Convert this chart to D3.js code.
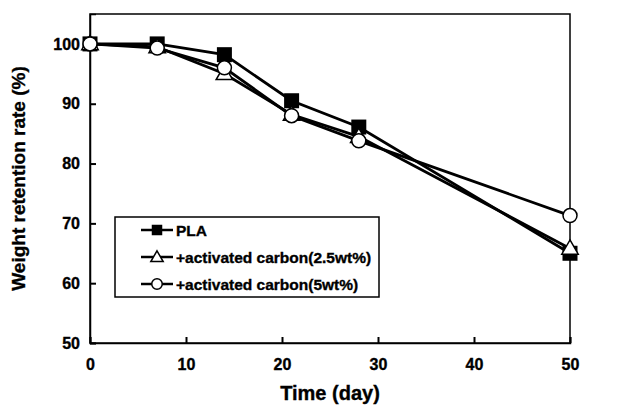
<!DOCTYPE html>
<html>
<head>
<meta charset="utf-8">
<script src="https://cdn.jsdelivr.net/npm/d3@7"></script>
<style>
  body { margin: 0; background: #fff; }
  svg text { font-family: "Liberation Sans", Arial, sans-serif; font-weight: bold; fill: #000; stroke: #000; stroke-width: 0.35px; }
</style>
</head>
<body>
<svg id="canvas" width="620" height="407"></svg>
<script>
// data
const days = [0, 7, 14, 21, 28, 50];
const pla = [100, 100, 98.2, 90.5, 86.1, 65.0];
const ac25 = [100, 99.5, 95.0, 88.2, 84.5, 65.8];
const ac5 = [100, 99.3, 96.0, 88.0, 83.8, 71.3];
const seriesNames = ['PLA', '+activated carbon(2.5wt%)', '+activated carbon(5wt%)'];
const xTicks = [0, 10, 20, 30, 40, 50];
const yTicks = [50, 60, 70, 80, 90, 100];

// margins & dimensions
const margin = { top: 14, right: 50, bottom: 64, left: 90 };
const width = 620 - margin.left - margin.right;
const height = 407 - margin.top - margin.bottom;

const root = d3.select('#canvas');
const svg = root.append('g')
  .attr('transform', `translate(${margin.left},${margin.top})`);

const xScale = d3.scaleLinear().domain([0, 50]).range([0, width]);
const yScale = d3.scaleLinear().domain([50, 105]).range([height, 0]);

// frame
svg.append('rect')
  .attr('width', width).attr('height', height)
  .attr('fill', 'none').attr('stroke', '#000').attr('stroke-width', 1.5);

// axes, ticks pointing inward
const xAxis = svg.append('g')
  .attr('transform', `translate(0,${height})`)
  .call(d3.axisBottom(xScale).tickValues(xTicks).tickSize(-6).tickPadding(16).tickFormat(d3.format('d')));
const yAxis = svg.append('g')
  .call(d3.axisLeft(yScale).tickValues(yTicks).tickSize(-6).tickPadding(10).tickFormat(d3.format('d')));

[xAxis, yAxis].forEach(ax => {
  ax.select('.domain').attr('stroke-width', 1.5);
  ax.selectAll('.tick line').attr('stroke-width', 2);
  ax.selectAll('.tick text').style('font-size', '16px');
});

// axis titles
svg.append('text')
  .attr('x', width / 2).attr('y', height + 57)
  .attr('text-anchor', 'middle')
  .style('font-size', '20px')
  .text('Time (day)');

svg.append('text')
  .attr('transform', `translate(${18 - margin.left},${height / 2}) rotate(-90)`)
  .attr('text-anchor', 'middle')
  .attr('dy', '0.35em')
  .style('font-size', '19px')
  .text('Weight retention rate (%)');

const series = [
  { name: seriesNames[0], values: pla, shape: 'square' },
  { name: seriesNames[1], values: ac25, shape: 'triangle' },
  { name: seriesNames[2], values: ac5, shape: 'circle' }
];

const line = d3.line()
  .x((d, i) => xScale(days[i]))
  .y(d => yScale(d));

function drawMarker(g, shape, x, y, s) {
  if (shape === 'square') {
    g.append('rect')
      .attr('x', x - s / 2).attr('y', y - s / 2)
      .attr('width', s).attr('height', s)
      .attr('fill', '#000');
  } else if (shape === 'triangle') {
    const sym = d3.symbol().type(d3.symbolTriangle).size(s * s * 0.6);
    g.append('path')
      .attr('d', sym())
      .attr('transform', `translate(${x},${y + 1})`)
      .attr('fill', '#fff').attr('stroke', '#000').attr('stroke-width', 1.5);
  } else {
    g.append('circle')
      .attr('cx', x).attr('cy', y).attr('r', s / 2)
      .attr('fill', '#fff').attr('stroke', '#000').attr('stroke-width', 1.5);
  }
}

const plot = svg.append('g');
series.forEach(s => {
  plot.append('path')
    .attr('d', line(s.values))
    .attr('fill', 'none')
    .attr('stroke', '#000')
    .attr('stroke-width', 2.8);
  const size = s.shape === 'square' ? 15 : 14;
  s.values.forEach((v, i) => drawMarker(plot, s.shape, xScale(days[i]), yScale(v), size));
});

// legend
const legend = svg.append('g').attr('transform', `translate(${115 - margin.left},${217 - margin.top})`);
legend.append('rect')
  .attr('width', 264).attr('height', 80)
  .attr('fill', '#fff').attr('stroke', '#000').attr('stroke-width', 1.5);

series.forEach((s, i) => {
  const y = 13 + i * 27;
  legend.append('line')
    .attr('x1', 26).attr('x2', 58)
    .attr('y1', y).attr('y2', y)
    .attr('stroke', '#000').attr('stroke-width', 2.5);
  drawMarker(legend, s.shape, 42, y, 10.5);
  legend.append('text')
    .attr('x', 61).attr('y', y)
    .attr('dy', '0.36em')
    .style('font-size', '15.5px')
    .text(s.name);
});
</script>
</body>
</html>
